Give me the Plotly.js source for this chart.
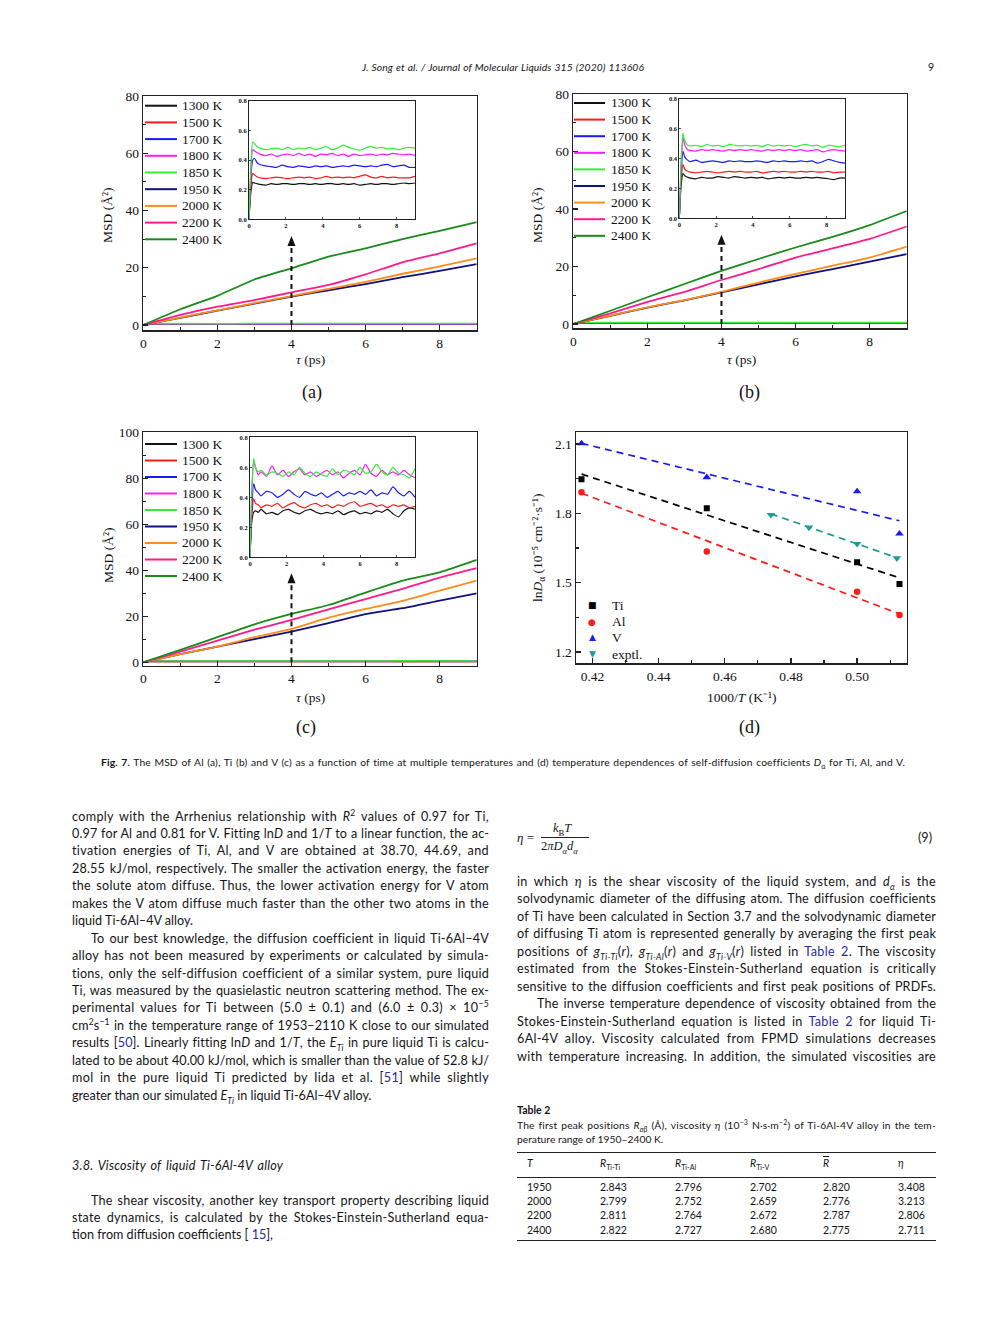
<!DOCTYPE html>
<html><head><meta charset="utf-8">
<script src="https://cdn.plot.ly/plotly-3.0.1.min.js"></script>
<style>
html,body{margin:0;padding:0;background:#fff;}
#page{position:relative;width:992px;height:1323px;overflow:hidden;background:#fff;}
#chart{position:absolute;left:0;top:0;width:992px;height:1323px;}
#txt{position:absolute;left:0;top:0;width:992px;height:1323px;pointer-events:none;}
.t{position:absolute;white-space:nowrap;font-family:Lato,"Open Sans","DejaVu Sans",sans-serif;color:#141414;}
.body{font-size:12.6px;line-height:17px;}
.small{font-size:10.3px;line-height:13px;}
.t sup,.t sub{font-size:0.68em;line-height:0;}
.lk{color:#2b2b9c;}
.serif{font-family:"Liberation Serif","Times New Roman",serif;}
.rule{position:absolute;background:#222;}
</style>
</head><body>
<div id="page"><div id="chart"></div><div id="txt"></div></div>
<script>
// ---------------- DATA ----------------
const temps = ['1300 K','1500 K','1700 K','1800 K','1850 K','1950 K','2000 K','2200 K','2400 K'];
const tInset = [0,0.1,0.2,0.3,0.45,0.6, 0.9,1.2,1.5,1.8,2.1,2.4,2.7,3.0,3.3,3.6, 3.9,4.2,4.5,4.8,5.1,5.4,5.7,6.0,6.3,6.6, 6.9,7.2,7.5,7.8,8.1,8.4,8.7,9.0];
const tMain = [0,1,2,3,4,5,6,7,8,9];

// (a) Al
const al_1300 = [0,0.18,0.25,0.245,0.24,0.235, 0.23,0.24,0.235,0.24,0.24,0.235,0.24,0.24,0.235,0.24, 0.235,0.24,0.24,0.235,0.24,0.235,0.24,0.23,0.235,0.24, 0.235,0.24,0.24,0.235,0.24,0.245,0.24,0.245];
const al_1500 = [0,0.22,0.31,0.30,0.285,0.28, 0.275,0.28,0.285,0.28,0.275,0.28,0.285,0.28,0.285,0.275, 0.28,0.29,0.28,0.285,0.28,0.285,0.28,0.29,0.30,0.285, 0.28,0.29,0.28,0.285,0.28,0.28,0.28,0.29];
const al_1700 = [0,0.28,0.40,0.41,0.38,0.37, 0.36,0.355,0.35,0.365,0.355,0.35,0.36,0.355,0.35,0.36, 0.355,0.36,0.35,0.355,0.36,0.355,0.365,0.36,0.355,0.36, 0.355,0.365,0.37,0.355,0.36,0.365,0.35,0.35];
const al_1800 = [0,0.32,0.47,0.46,0.45,0.44, 0.43,0.44,0.425,0.435,0.44,0.43,0.445,0.43,0.44,0.425, 0.44,0.435,0.445,0.43,0.44,0.425,0.44,0.43,0.435,0.44, 0.43,0.44,0.435,0.445,0.44,0.435,0.44,0.43];
const al_1850 = [0,0.35,0.52,0.51,0.49,0.48, 0.47,0.475,0.48,0.47,0.485,0.47,0.48,0.475,0.485,0.47, 0.48,0.49,0.47,0.48,0.50,0.485,0.475,0.465,0.48,0.49, 0.48,0.485,0.475,0.48,0.47,0.48,0.485,0.48];
const al_1950 = [0,2.5,5.0,7.5,9.9,12.1,14.3,16.7,18.9,21.3];
const al_2000 = [0,2.6,5.1,7.6,10.1,12.6,15.1,17.9,20.5,23.3];
const al_2200 = [0,3.5,6.4,8.7,11.4,14.0,17.7,21.9,25.0,28.5];
const al_2400 = [0,5.5,10.2,15.9,19.8,23.9,26.8,30.0,32.9,35.9];

// (b) Ti
const ti_1300 = [0,0.22,0.30,0.285,0.275,0.27, 0.265,0.275,0.27,0.27,0.28,0.275,0.27,0.28,0.275,0.27, 0.275,0.27,0.275,0.265,0.27,0.275,0.27,0.275,0.27,0.27, 0.275,0.27,0.275,0.27,0.265,0.26,0.27,0.27];
const ti_1500 = [0,0.26,0.36,0.33,0.315,0.31, 0.305,0.31,0.315,0.31,0.305,0.31,0.315,0.31,0.315,0.31, 0.31,0.315,0.305,0.31,0.315,0.31,0.315,0.31,0.31,0.315, 0.31,0.315,0.31,0.31,0.315,0.305,0.31,0.31];
const ti_1700 = [0,0.30,0.45,0.41,0.39,0.38, 0.39,0.375,0.38,0.385,0.38,0.375,0.385,0.38,0.385,0.38, 0.38,0.385,0.38,0.375,0.385,0.38,0.385,0.38,0.38,0.385, 0.38,0.385,0.37,0.38,0.395,0.385,0.375,0.37];
const ti_1800 = [0,0.36,0.54,0.49,0.46,0.455, 0.45,0.46,0.455,0.46,0.455,0.45,0.46,0.455,0.46,0.455, 0.46,0.455,0.45,0.46,0.455,0.46,0.455,0.46,0.455,0.46, 0.45,0.455,0.46,0.445,0.455,0.46,0.455,0.45];
const ti_1850 = [0,0.38,0.57,0.52,0.49,0.485, 0.49,0.48,0.495,0.485,0.49,0.48,0.495,0.49,0.485,0.49, 0.485,0.49,0.48,0.495,0.485,0.49,0.485,0.49,0.48,0.49, 0.495,0.485,0.49,0.475,0.49,0.485,0.48,0.49];
const ti_1950 = [0,2.8,5.7,8.2,11.0,13.8,16.6,19.1,21.7,24.3];
const ti_2000 = [0,2.9,5.8,8.3,11.2,14.4,17.4,20.3,23.1,26.9];
const ti_2200 = [0,3.7,7.7,11.2,15.3,19.1,23.1,26.3,29.6,33.9];
const ti_2400 = [0,4.6,9.3,13.9,18.5,22.6,26.6,30.3,34.4,39.3];

// (c) V
const v_1300 = [0,0.24,0.30,0.31,0.30,0.32, 0.29,0.30,0.285,0.31,0.32,0.30,0.29,0.31,0.32,0.30, 0.29,0.30,0.29,0.31,0.285,0.30,0.31,0.29,0.30,0.29, 0.31,0.30,0.32,0.29,0.27,0.31,0.33,0.32];
const v_1500 = [0,0.28,0.39,0.36,0.35,0.33, 0.35,0.34,0.36,0.33,0.35,0.365,0.34,0.33,0.35,0.36, 0.34,0.35,0.33,0.35,0.34,0.36,0.37,0.34,0.35,0.36, 0.34,0.35,0.33,0.35,0.34,0.35,0.33,0.34];
const v_1700 = [0,0.33,0.49,0.45,0.43,0.41, 0.44,0.43,0.40,0.42,0.45,0.42,0.40,0.44,0.42,0.41, 0.43,0.40,0.42,0.44,0.41,0.43,0.42,0.44,0.42,0.45, 0.41,0.43,0.42,0.47,0.43,0.41,0.44,0.40];
const v_1800 = [0,0.42,0.64,0.60,0.55,0.57, 0.54,0.61,0.55,0.58,0.54,0.57,0.59,0.55,0.57,0.54, 0.56,0.58,0.55,0.57,0.53,0.56,0.58,0.55,0.62,0.56, 0.54,0.58,0.55,0.57,0.55,0.58,0.55,0.53];
const v_1850 = [0,0.45,0.66,0.60,0.57,0.58, 0.55,0.57,0.56,0.54,0.57,0.55,0.60,0.56,0.54,0.57, 0.55,0.54,0.59,0.55,0.58,0.57,0.55,0.60,0.56,0.57, 0.62,0.57,0.55,0.60,0.56,0.55,0.53,0.59];
const v_1950 = [0,3.5,6.8,10.1,13.3,17.0,20.9,23.5,26.8,30.0];
const v_2000 = [0,3.5,6.8,10.9,14.5,19.4,23.2,26.7,31.2,35.5];
const v_2200 = [0,4.6,9.4,14.2,18.4,23.0,27.5,31.9,36.8,40.9];
const v_2400 = [0,5.4,10.9,16.5,21.0,24.9,30.3,35.5,39.1,44.5];

// (d) Arrhenius
const tempsSim = [2400,2200,2000,1950];
const tempsExp = [2110,2060,2000,1953];
const lnD_Ti = [1.948,1.822,1.588,1.494];
const lnD_Al = [1.891,1.635,1.461,1.360];
const lnD_V  = [2.103,1.956,1.895,1.712];
const lnD_exp = [1.794,1.739,1.668,1.606];
const fitX_sim = [0.4167,0.5128];
const fitX_exp = [0.4739,0.5120];
const fitY_Ti = [1.970,1.521];
const fitY_Al = [1.887,1.365];
const fitY_V  = [2.103,1.768];
const fitY_exp = [1.798,1.608];
const dLabels = ['Ti','Al','V','exptl.'];

// Table 2
const tabT = ['1950','2000','2200','2400'];
const tabRTiTi = ['2.843','2.799','2.811','2.822'];
const tabRTiAl = ['2.796','2.752','2.764','2.727'];
const tabRTiV  = ['2.702','2.659','2.672','2.680'];
const tabRbar  = ['2.820','2.776','2.787','2.775'];
const tabEta   = ['3.408','3.213','2.806','2.711'];

// ---------------- STYLE ----------------
const colors = ['#111111','#ff1a1a','#1a1aff','#ff1aff','#33ee33','#101080','#ff8c1a','#ff1a8c','#1a8a1a'];
const F = '"Liberation Serif","Times New Roman",serif';
const W = 992, H = 1323;
const PX = x => x / W, PY = y => 1 - y / H;

const panels = [
  {low:[al_1300,al_1500,al_1700,al_1800,al_1850], high:[al_1950,al_2000,al_2200,al_2400],
   main:{x:[143.3,476.7], y:[96,330], range:[-1.75,80], dtick:20}, inset:{x:[249,415], y:[100.7,219.3]},
   arrowTip:31.1, leg:{lx:[145,177], tx:180, y0:105.7, dy:16.7}},
  {low:[ti_1300,ti_1500,ti_1700,ti_1800,ti_1850], high:[ti_1950,ti_2000,ti_2200,ti_2400],
   main:{x:[573.3,906.7], y:[94,328], range:[-1.4,80], dtick:20}, inset:{x:[679.3,845], y:[99,218.3]},
   arrowTip:31, leg:{lx:[574,605], tx:609, y0:103, dy:16.6}},
  {low:[v_1300,v_1500,v_1700,v_1800,v_1850], high:[v_1950,v_2000,v_2200,v_2400],
   main:{x:[143.3,476.7], y:[432.3,665.7], range:[-1.5,100], dtick:20}, inset:{x:[250,415], y:[437.3,557.3]},
   arrowTip:38.7, leg:{lx:[145,177], tx:180, y0:444, dy:16.5}}
];

const traces = [];
const layout = {
  width: W, height: H, margin:{l:0,r:0,t:0,b:0}, paper_bgcolor:'#fff', plot_bgcolor:'#fff',
  showlegend:false, font:{family:F, color:'#111'}, shapes:[], annotations:[]
};

function axBase(){
  return {showline:true, linecolor:'#222', mirror:true, showgrid:false, zeroline:false, fixedrange:true,
          ticks:'inside', tickcolor:'#222'};
}

panels.forEach((p, i) => {
  const mi = 2*i+1, ii = 2*i+2;
  const mx = 'x'+(mi===1?'':mi), my = 'y'+(mi===1?'':mi);
  const ix = 'x'+ii, iy = 'y'+ii;
  layout['xaxis'+(mi===1?'':mi)] = Object.assign(axBase(), {
    domain:[PX(p.main.x[0]),PX(p.main.x[1])], anchor:my, range:[0,9], tick0:0, dtick:2,
    ticklen:5, tickwidth:1.3, linewidth:1.5,
    minor:{dtick:1, ticks:'inside', ticklen:3, tickwidth:1.1, tickcolor:'#222'},
    tickfont:{family:F, size:13.5, color:'#111'}});
  layout['yaxis'+(mi===1?'':mi)] = Object.assign(axBase(), {
    domain:[PY(p.main.y[1]),PY(p.main.y[0])], anchor:mx, range:p.main.range, tick0:0, dtick:p.main.dtick,
    ticklen:5, tickwidth:1.3, linewidth:1.5,
    minor:{dtick:p.main.dtick/2, ticks:'inside', ticklen:3, tickwidth:1.1, tickcolor:'#222'},
    tickfont:{family:F, size:13.5, color:'#111'}});
  layout['xaxis'+ii] = Object.assign(axBase(), {
    domain:[PX(p.inset.x[0]),PX(p.inset.x[1])], anchor:iy, range:[0,9], tick0:0, dtick:2,
    ticklen:2, tickwidth:0.8, linewidth:1,
    tickfont:{family:F, size:6.5, color:'#111', weight:'bold'}});
  layout['yaxis'+ii] = Object.assign(axBase(), {
    domain:[PY(p.inset.y[1]),PY(p.inset.y[0])], anchor:ix, range:[0,0.8], tick0:0, dtick:0.2, tickformat:'.1f',
    ticklen:2, tickwidth:0.8, linewidth:1,
    tickfont:{family:F, size:6.5, color:'#111', weight:'bold'}});

  p.low.forEach((ys, k) => {
    traces.push({x:tInset, y:ys, xaxis:mx, yaxis:my, mode:'lines', line:{color:colors[k], width:1.5}, hoverinfo:'skip'});
  });
  p.high.forEach((ys, k) => {
    traces.push({x:tMain, y:ys, xaxis:mx, yaxis:my, mode:'lines', line:{color:colors[k+5], width:1.8, shape:'spline', smoothing:0.5}, hoverinfo:'skip'});
  });
  p.low.forEach((ys, k) => {
    traces.push({x:tInset, y:ys, xaxis:ix, yaxis:iy, mode:'lines', line:{color:colors[k], width:1.2, shape:'spline', smoothing:0.6}, hoverinfo:'skip'});
  });

  const yu = (p.main.range[1]-p.main.range[0])/(p.main.y[1]-p.main.y[0]);
  const xu = 9/(p.main.x[1]-p.main.x[0]);
  const tip = p.arrowTip, base = tip - 10*yu;
  layout.shapes.push({type:'line', xref:mx, yref:my, x0:4, x1:4, y0:0, y1:base,
    line:{color:'#111', width:2, dash:'5px,4px'}});
  layout.shapes.push({type:'path', xref:mx, yref:my,
    path:`M ${4-4*xu},${base} L 4,${tip} L ${4+4*xu},${base} Z`, fillcolor:'#111', line:{width:0}});

  temps.forEach((name, k) => {
    const yc = p.leg.y0 + k*p.leg.dy;
    layout.shapes.push({type:'line', xref:'paper', yref:'paper', x0:PX(p.leg.lx[0]), x1:PX(p.leg.lx[1]),
      y0:PY(yc), y1:PY(yc), line:{color:colors[k], width:2}});
    layout.annotations.push({xref:'paper', yref:'paper', x:PX(p.leg.tx), y:PY(yc), xanchor:'left', yanchor:'middle',
      text:name, showarrow:false, font:{family:F, size:13.5, color:'#111'}});
  });
});

// (d) axes
layout.xaxis7 = Object.assign(axBase(), {domain:[PX(576),PX(906.7)], anchor:'y7', range:[0.415,0.515],
  tick0:0.42, dtick:0.02, tickformat:'.2f', ticklen:5, tickwidth:1.3, linewidth:1.5,
  minor:{dtick:0.01, ticks:'inside', ticklen:3, tickwidth:1.1, tickcolor:'#222'},
  tickfont:{family:F, size:13.5, color:'#111'}});
layout.yaxis7 = Object.assign(axBase(), {domain:[PY(663.3),PY(432.3)], anchor:'x7', range:[1.151,2.151],
  tick0:1.2, dtick:0.3, tickformat:'.1f', ticklen:5, tickwidth:1.3, linewidth:1.5,
  minor:{dtick:0.15, ticks:'inside', ticklen:3, tickwidth:1.1, tickcolor:'#222'},
  tickfont:{family:F, size:13.5, color:'#111'}});

const invSim = tempsSim.map(T => 1000/T);
const invExp = tempsExp.map(T => 1000/T);
const dCol = ['#000000','#ff1a1a','#1a1aff','#1f9a9a'];
const fitDash = '7px,5px';
[[fitX_sim,fitY_Ti,0],[fitX_sim,fitY_Al,1],[fitX_sim,fitY_V,2],[fitX_exp,fitY_exp,3]].forEach(([fx,fy,k]) => {
  traces.push({x:fx, y:fy, xaxis:'x7', yaxis:'y7', mode:'lines', line:{color:dCol[k], width:1.7, dash:fitDash}, hoverinfo:'skip'});
});
traces.push({x:invSim, y:lnD_Ti, xaxis:'x7', yaxis:'y7', mode:'markers', marker:{symbol:'square', size:6, color:dCol[0]}});
traces.push({x:invSim, y:lnD_Al, xaxis:'x7', yaxis:'y7', mode:'markers', marker:{symbol:'circle', size:6.5, color:dCol[1]}});
traces.push({x:invSim, y:lnD_V, xaxis:'x7', yaxis:'y7', mode:'markers', marker:{symbol:'triangle-up', size:7.5, color:dCol[2]}});
traces.push({x:invExp, y:lnD_exp, xaxis:'x7', yaxis:'y7', mode:'markers', marker:{symbol:'triangle-down', size:7.5, color:dCol[3]}});

const dSym = ['■','●','▲','▼'];
const dLegY = [605,621.7,637.3,654.3];
dLabels.forEach((lab,k) => {
  layout.annotations.push({xref:'paper', yref:'paper', x:PX(592), y:PY(dLegY[k]), xanchor:'center', yanchor:'middle',
    text:dSym[k], showarrow:false, font:{family:'"DejaVu Sans",sans-serif', size:9, color:dCol[k]}});
  layout.annotations.push({xref:'paper', yref:'paper', x:PX(610), y:PY(dLegY[k]), xanchor:'left', yanchor:'middle',
    text:lab, showarrow:false, font:{family:F, size:13.5, color:'#111'}});
});

function ann(x,y,text,size,angle){
  layout.annotations.push({xref:'paper', yref:'paper', x:PX(x), y:PY(y), xanchor:'center', yanchor:'middle',
    text:text, showarrow:false, textangle:angle||0, font:{family:F, size:size, color:'#111'}});
}
const msd = 'MSD (Å²)';
const tau = '<i>τ</i> (ps)';
ann(108,216,msd,13.5,-90); ann(310,359,tau,13.5); ann(312,393,'(a)',18);
ann(538,216,msd,13.5,-90); ann(741,359,tau,13.5); ann(749,393,'(b)',18);
ann(108,556,msd,13.5,-90); ann(310,697,tau,13.5); ann(306,727,'(c)',18);
ann(538,548,'ln<i>D</i><sub>α</sub> (10⁻⁵ cm⁻²·s⁻¹)',13.5,-90);
ann(741,697,'1000/<i>T</i> (K⁻¹)',13.5); ann(749,727,'(d)',18);

Plotly.newPlot('chart', traces, layout, {displayModeBar:false, staticPlot:true});

// ---------------- PAGE TEXT ----------------
const txt = document.getElementById('txt');
const fits = [];
function put(x, y, html, cls, w, style){
  const d = document.createElement('div');
  d.className = 't ' + cls;
  d.innerHTML = html;
  d.style.left = x + 'px';
  if (style) d.style.cssText += style;
  txt.appendChild(d);
  const h = parseFloat(getComputedStyle(d).lineHeight) || 17;
  d.style.top = (y - h/2) + 'px';
  if (w) fits.push([d, w]);
  return d;
}
const L = s => '<span class="lk">' + s + '</span>';

put(362, 67, '<i>J. Song et al. / Journal of Molecular Liquids 315 (2020) 113606</i>', 'small', 282);
put(928, 67, '9', 'small', 0, 'font-size:10.5px;');
put(101, 762, '<b>Fig. 7.</b> The MSD of Al (a), Ti (b) and V (c) as a function of time at multiple temperatures and (d) temperature dependences of self-diffusion coefficients <i>D</i><sub>α</sub> for Ti, Al, and V.', 'small', 804);

const leftLines = [
  ['comply with the Arrhenius relationship with <i>R</i><sup>2</sup> values of 0.97 for Ti,',1,0],
  ['0.97 for Al and 0.81 for V. Fitting ln<i>D</i> and 1/<i>T</i> to a linear function, the ac-',1,0],
  ['tivation energies of Ti, Al, and V are obtained at 38.70, 44.69, and',1,0],
  ['28.55 kJ/mol, respectively. The smaller the activation energy, the faster',1,0],
  ['the solute atom diffuse. Thus, the lower activation energy for V atom',1,0],
  ['makes the V atom diffuse much faster than the other two atoms in the',1,0],
  ['liquid Ti-6Al–4V alloy.',0,0],
  ['To our best knowledge, the diffusion coefficient in liquid Ti-6Al–4V',1,1],
  ['alloy has not been measured by experiments or calculated by simula-',1,0],
  ['tions, only the self-diffusion coefficient of a similar system, pure liquid',1,0],
  ['Ti, was measured by the quasielastic neutron scattering method. The ex-',1,0],
  ['perimental values for Ti between (5.0 ± 0.1) and (6.0 ± 0.3) × 10<sup>−5</sup>',1,0],
  ['cm<sup>2</sup>s<sup>−1</sup> in the temperature range of 1953–2110 K close to our simulated',1,0],
  ['results ['+L('50')+']. Linearly fitting ln<i>D</i> and 1/<i>T</i>, the <i>E<sub>Ti</sub></i> in pure liquid Ti is calcu-',1,0],
  ['lated to be about 40.00 kJ/mol, which is smaller than the value of 52.8 kJ/',1,0],
  ['mol in the pure liquid Ti predicted by Iida et al. ['+L('51')+'] while slightly',1,0],
  ['greater than our simulated <i>E<sub>Ti</sub></i> in liquid Ti-6Al–4V alloy.',0,0]
];
leftLines.forEach((l, k) => {
  const y = 816 + k*17.45;
  const x = l[2] ? 91 : 72;
  put(x, y, l[0], 'body', l[1] ? 489 - x : 0);
});

put(72, 1165, '<i>3.8. Viscosity of liquid Ti-6Al-4V alloy</i>', 'body', 211);
const left2 = [
  ['The shear viscosity, another key transport property describing liquid',1,1],
  ['state dynamics, is calculated by the Stokes-Einstein-Sutherland equa-',1,0],
  ['tion from diffusion coefficients [ '+L('15')+'],',0,0]
];
left2.forEach((l,k) => {
  const y = 1200 + k*17.45;
  const x = l[2] ? 91 : 72;
  put(x, y, l[0], 'body', l[1] ? 489 - x : 0);
});

put(517, 837, '<i>η</i> =', 'body serif', 0, 'font-size:13px;');
put(553, 828, '<i>k</i><sub>B</sub><i>T</i>', 'body serif', 0, 'font-size:12.5px;');
put(541, 846, '2<i>πD</i><sub><i>α</i></sub><i>d</i><sub><i>α</i></sub>', 'body serif', 0, 'font-size:12.5px;');
const fr = document.createElement('div'); fr.className='rule';
fr.style.cssText = 'left:541px;top:836.5px;width:48px;height:0.8px;';
txt.appendChild(fr);
put(918, 837, '(9)', 'body', 0);

const rightLines = [
  ['in which <i>η</i> is the shear viscosity of the liquid system, and <i>d<sub>α</sub></i> is the',1,0],
  ['solvodynamic diameter of the diffusing atom. The diffusion coefficients',1,0],
  ['of Ti have been calculated in Section 3.7 and the solvodynamic diameter',1,0],
  ['of diffusing Ti atom is represented generally by averaging the first peak',1,0],
  ['positions of <i>g<sub>Ti-Ti</sub></i>(<i>r</i>), <i>g<sub>Ti-Al</sub></i>(<i>r</i>) and <i>g<sub>Ti-V</sub></i>(<i>r</i>) listed in '+L('Table 2')+'. The viscosity',1,0],
  ['estimated from the Stokes-Einstein-Sutherland equation is critically',1,0],
  ['sensitive to the diffusion coefficients and first peak positions of PRDFs.',1,0],
  ['The inverse temperature dependence of viscosity obtained from the',1,1],
  ['Stokes-Einstein-Sutherland equation is listed in '+L('Table 2')+' for liquid Ti-',1,0],
  ['6Al-4V alloy. Viscosity calculated from FPMD simulations decreases',1,0],
  ['with temperature increasing. In addition, the simulated viscosities are',1,0]
];
rightLines.forEach((l,k) => {
  const y = 881 + k*17.5;
  const x = l[2] ? 537 : 517;
  put(x, y, l[0], 'body', l[1] ? 936 - x : 0);
});

put(517, 1110, '<b>Table 2</b>', 'small', 0, 'font-size:10.5px;');
put(517, 1125, 'The first peak positions <i>R<sub>αβ</sub></i> (Å), viscosity <i>η</i> (10<sup>−3</sup> N·s·m<sup>−2</sup>) of Ti-6Al-4V alloy in the tem-', 'small', 419);
put(517, 1139, 'perature range of 1950–2400 K.', 'small', 0);
function rule(y, h){ const r=document.createElement('div'); r.className='rule';
  r.style.cssText='left:517px;top:'+y+'px;width:419px;height:'+h+'px;'; txt.appendChild(r); }
rule(1151.5, 1); rule(1176.5, 0.6); rule(1239.5, 1);
const colX = [527,600,675,750,823,898];
const heads = ['<i>T</i>','<i>R</i><sub>Ti-Ti</sub>','<i>R</i><sub>Ti-Al</sub>','<i>R</i><sub>Ti-V</sub>','<span style="text-decoration:overline"><i>R</i></span>','<i>η</i>'];
heads.forEach((h,k) => put(colX[k], 1163, h, 'small', 0, 'font-size:10.5px;'));
const rowY = [1187,1201.3,1215.6,1230];
tabT.forEach((T,r) => {
  [T, tabRTiTi[r], tabRTiAl[r], tabRTiV[r], tabRbar[r], tabEta[r]].forEach((v,k) =>
    put(colX[k], rowY[r], v, 'small', 0, 'font-size:10.5px;'));
});

function doFit(){
  fits.forEach(([el, Wt]) => {
    el.style.wordSpacing = ''; el.style.letterSpacing = '';
    const w = el.getBoundingClientRect().width;
    const s = el.textContent;
    const n = (s.match(/ /g) || []).length;
    const extra = Wt - w;
    if (extra < 0 || n === 0) {
      el.style.letterSpacing = (extra / s.length) + 'px';
    } else {
      const ls = Math.min(extra * 0.5 / s.length, 0.35);
      el.style.letterSpacing = ls + 'px';
      const w2 = el.getBoundingClientRect().width;
      el.style.wordSpacing = ((Wt - w2) / n) + 'px';
    }
  });
}
doFit();
if (document.fonts && document.fonts.ready) document.fonts.ready.then(doFit);
</script>
</body></html>
